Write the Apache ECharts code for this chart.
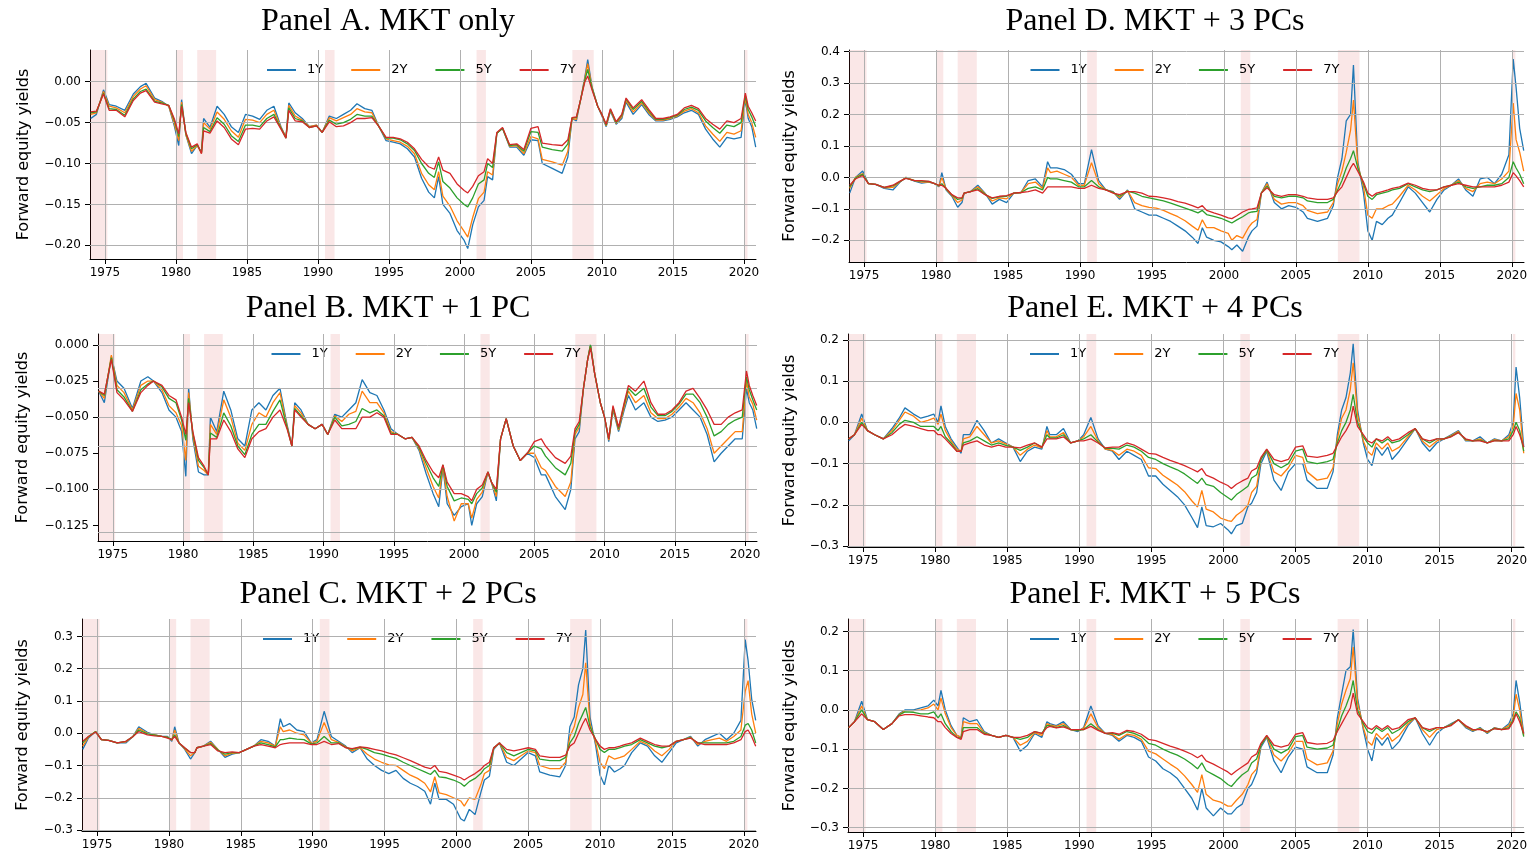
<!DOCTYPE html>
<html><head><meta charset="utf-8">
<script src="https://cdn.jsdelivr.net/npm/echarts@6/dist/echarts.min.js"></script>
<style>html,body{margin:0;padding:0;background:#fff}#c{width:1533px;height:856px}</style>
</head><body><div id="c"></div>
<script>
// ---------- DATA ----------
const T = [
1974.0,1974.4,1974.9,1975.3,1975.8,1976.4,1977.0,1977.5,1977.9,1978.5,1979.0,1979.5,1979.9,
1980.2,1980.4,1980.7,1981.1,1981.5,1981.8,1981.95,1982.4,1982.9,1983.4,1983.9,1984.4,1984.9,1985.4,1985.9,1986.4,1986.9,
1987.4,1987.75,1987.95,1988.4,1988.9,1989.4,1989.9,1990.3,1990.8,1991.3,1991.8,1992.3,1992.75,1993.3,1993.8,1994.3,1994.8,
1995.3,1995.8,1996.3,1996.8,1997.3,1997.8,1998.2,1998.5,1998.8,1999.3,1999.8,2000.3,2000.55,2000.9,2001.3,2001.7,2001.95,2002.3,
2002.6,2003.0,2003.5,2004.0,2004.5,2005.0,2005.5,2005.8,2006.5,2007.2,2007.6,2007.9,2008.2,2008.5,2008.8,2009.0,2009.3,2009.7,
2010.0,2010.3,2010.6,2011.0,2011.4,2011.7,2012.2,2012.8,2013.3,2013.8,2014.3,2014.8,2015.3,2015.8,2016.3,2016.8,2017.3,2017.8,2018.3,2018.8,2019.3,2019.8,2020.1,2020.3,2020.55,2020.83];

// Panel A. MKT only
const A1Y = [
-0.045,-0.040,-0.010,-0.028,-0.030,-0.035,-0.015,-0.006,-0.002,-0.020,-0.024,-0.030,-0.055,
-0.078,-0.022,-0.065,-0.088,-0.078,-0.086,-0.045,-0.056,-0.030,-0.040,-0.055,-0.062,-0.040,-0.042,-0.046,-0.035,-0.030,
-0.055,-0.068,-0.026,-0.038,-0.045,-0.055,-0.053,-0.062,-0.042,-0.045,-0.040,-0.035,-0.027,-0.033,-0.035,-0.055,-0.072,
-0.074,-0.076,-0.082,-0.092,-0.118,-0.135,-0.142,-0.116,-0.150,-0.161,-0.182,-0.194,-0.204,-0.175,-0.153,-0.145,-0.116,-0.120,
-0.063,-0.057,-0.080,-0.080,-0.090,-0.071,-0.072,-0.100,-0.106,-0.112,-0.092,-0.045,-0.048,-0.022,0.006,0.027,-0.006,-0.030,
-0.042,-0.055,-0.036,-0.052,-0.045,-0.025,-0.040,-0.028,-0.040,-0.048,-0.048,-0.046,-0.043,-0.038,-0.035,-0.040,-0.058,-0.070,-0.080,-0.068,-0.070,-0.068,-0.022,-0.045,-0.055,-0.080];
const A2Y = [
-0.040,-0.038,-0.012,-0.030,-0.032,-0.038,-0.018,-0.009,-0.005,-0.022,-0.025,-0.030,-0.052,
-0.072,-0.025,-0.065,-0.085,-0.078,-0.087,-0.050,-0.058,-0.037,-0.046,-0.060,-0.068,-0.046,-0.047,-0.050,-0.040,-0.035,
-0.056,-0.068,-0.029,-0.042,-0.047,-0.055,-0.053,-0.062,-0.044,-0.048,-0.044,-0.040,-0.033,-0.037,-0.038,-0.055,-0.070,
-0.072,-0.074,-0.079,-0.088,-0.112,-0.126,-0.132,-0.110,-0.140,-0.152,-0.170,-0.183,-0.190,-0.166,-0.143,-0.135,-0.110,-0.114,
-0.063,-0.057,-0.079,-0.078,-0.088,-0.067,-0.070,-0.095,-0.098,-0.102,-0.085,-0.045,-0.046,-0.022,0.004,0.022,-0.007,-0.030,
-0.041,-0.054,-0.035,-0.051,-0.043,-0.023,-0.037,-0.026,-0.038,-0.047,-0.047,-0.045,-0.042,-0.036,-0.033,-0.038,-0.054,-0.064,-0.073,-0.062,-0.064,-0.060,-0.020,-0.040,-0.050,-0.068];
const A5Y = [
-0.038,-0.037,-0.014,-0.033,-0.034,-0.041,-0.021,-0.012,-0.009,-0.024,-0.026,-0.029,-0.048,
-0.067,-0.028,-0.063,-0.082,-0.077,-0.087,-0.056,-0.061,-0.044,-0.052,-0.066,-0.073,-0.053,-0.053,-0.055,-0.045,-0.040,
-0.057,-0.069,-0.032,-0.045,-0.048,-0.056,-0.054,-0.062,-0.047,-0.052,-0.050,-0.046,-0.040,-0.042,-0.042,-0.055,-0.069,
-0.069,-0.071,-0.076,-0.084,-0.100,-0.112,-0.117,-0.098,-0.122,-0.130,-0.142,-0.150,-0.153,-0.142,-0.125,-0.120,-0.100,-0.105,
-0.063,-0.057,-0.078,-0.077,-0.085,-0.061,-0.062,-0.080,-0.083,-0.085,-0.076,-0.044,-0.044,-0.022,0.002,0.015,-0.008,-0.030,
-0.040,-0.053,-0.034,-0.050,-0.041,-0.021,-0.034,-0.024,-0.036,-0.046,-0.046,-0.044,-0.041,-0.034,-0.031,-0.035,-0.048,-0.056,-0.063,-0.053,-0.055,-0.050,-0.017,-0.034,-0.043,-0.055];
const A7Y = [
-0.037,-0.036,-0.015,-0.035,-0.035,-0.043,-0.023,-0.014,-0.011,-0.025,-0.027,-0.029,-0.046,
-0.064,-0.030,-0.062,-0.080,-0.076,-0.088,-0.060,-0.063,-0.048,-0.056,-0.070,-0.077,-0.058,-0.057,-0.058,-0.048,-0.043,
-0.058,-0.069,-0.035,-0.048,-0.049,-0.056,-0.054,-0.062,-0.049,-0.055,-0.054,-0.050,-0.045,-0.045,-0.044,-0.055,-0.068,
-0.068,-0.070,-0.074,-0.082,-0.095,-0.104,-0.107,-0.092,-0.108,-0.112,-0.125,-0.133,-0.136,-0.128,-0.115,-0.110,-0.094,-0.100,
-0.062,-0.056,-0.077,-0.076,-0.083,-0.057,-0.055,-0.075,-0.077,-0.078,-0.071,-0.044,-0.043,-0.022,0.000,0.007,-0.010,-0.030,
-0.040,-0.052,-0.033,-0.049,-0.040,-0.020,-0.032,-0.022,-0.034,-0.045,-0.045,-0.043,-0.040,-0.032,-0.029,-0.033,-0.045,-0.052,-0.058,-0.048,-0.050,-0.045,-0.014,-0.030,-0.038,-0.048];

// Panel B. MKT + 1 PC
const B1Y = [
-0.032,-0.040,-0.008,-0.025,-0.030,-0.044,-0.025,-0.022,-0.025,-0.033,-0.045,-0.050,-0.060,
-0.091,-0.030,-0.065,-0.088,-0.090,-0.090,-0.050,-0.060,-0.032,-0.045,-0.065,-0.070,-0.045,-0.040,-0.045,-0.035,-0.030,
-0.055,-0.070,-0.040,-0.045,-0.055,-0.058,-0.055,-0.062,-0.048,-0.050,-0.045,-0.040,-0.024,-0.033,-0.035,-0.045,-0.058,
-0.062,-0.065,-0.064,-0.073,-0.089,-0.103,-0.112,-0.085,-0.110,-0.118,-0.112,-0.110,-0.125,-0.110,-0.105,-0.088,-0.095,-0.108,
-0.065,-0.051,-0.070,-0.080,-0.075,-0.078,-0.090,-0.090,-0.105,-0.114,-0.100,-0.065,-0.060,-0.030,-0.010,0.000,-0.020,-0.040,
-0.050,-0.067,-0.045,-0.060,-0.045,-0.035,-0.045,-0.040,-0.050,-0.053,-0.052,-0.050,-0.045,-0.040,-0.045,-0.050,-0.062,-0.081,-0.075,-0.070,-0.065,-0.065,-0.030,-0.040,-0.045,-0.058];
const B2Y = [
-0.032,-0.037,-0.007,-0.028,-0.033,-0.045,-0.028,-0.025,-0.025,-0.031,-0.042,-0.047,-0.056,
-0.080,-0.033,-0.063,-0.084,-0.087,-0.090,-0.055,-0.062,-0.038,-0.050,-0.068,-0.073,-0.055,-0.047,-0.050,-0.040,-0.033,
-0.056,-0.070,-0.042,-0.047,-0.055,-0.058,-0.055,-0.062,-0.049,-0.053,-0.048,-0.046,-0.032,-0.040,-0.040,-0.047,-0.060,
-0.062,-0.065,-0.064,-0.072,-0.085,-0.098,-0.106,-0.084,-0.105,-0.122,-0.110,-0.110,-0.120,-0.107,-0.102,-0.088,-0.095,-0.105,
-0.065,-0.051,-0.070,-0.080,-0.075,-0.075,-0.085,-0.087,-0.098,-0.105,-0.095,-0.062,-0.057,-0.030,-0.010,0.000,-0.020,-0.040,
-0.050,-0.066,-0.044,-0.059,-0.043,-0.032,-0.040,-0.035,-0.047,-0.051,-0.051,-0.048,-0.043,-0.037,-0.040,-0.047,-0.058,-0.075,-0.070,-0.065,-0.060,-0.060,-0.025,-0.036,-0.041,-0.052];
const B5Y = [
-0.032,-0.035,-0.009,-0.031,-0.036,-0.046,-0.031,-0.027,-0.025,-0.029,-0.037,-0.040,-0.052,
-0.066,-0.037,-0.061,-0.080,-0.085,-0.090,-0.061,-0.064,-0.047,-0.056,-0.070,-0.076,-0.062,-0.055,-0.055,-0.046,-0.038,
-0.057,-0.070,-0.044,-0.049,-0.055,-0.058,-0.055,-0.062,-0.050,-0.056,-0.055,-0.053,-0.044,-0.047,-0.045,-0.049,-0.061,
-0.062,-0.065,-0.064,-0.071,-0.082,-0.092,-0.098,-0.083,-0.098,-0.108,-0.106,-0.107,-0.110,-0.103,-0.099,-0.088,-0.095,-0.102,
-0.065,-0.051,-0.070,-0.080,-0.075,-0.070,-0.072,-0.077,-0.085,-0.090,-0.082,-0.060,-0.055,-0.030,-0.010,0.000,-0.020,-0.040,
-0.050,-0.065,-0.043,-0.058,-0.041,-0.030,-0.035,-0.030,-0.043,-0.049,-0.049,-0.046,-0.041,-0.034,-0.034,-0.040,-0.050,-0.063,-0.060,-0.055,-0.052,-0.050,-0.022,-0.031,-0.038,-0.045];
const B7Y = [
-0.032,-0.034,-0.010,-0.033,-0.038,-0.046,-0.033,-0.028,-0.025,-0.028,-0.035,-0.038,-0.050,
-0.062,-0.040,-0.060,-0.078,-0.084,-0.090,-0.065,-0.065,-0.052,-0.060,-0.072,-0.078,-0.065,-0.060,-0.058,-0.050,-0.045,
-0.058,-0.070,-0.045,-0.050,-0.055,-0.058,-0.055,-0.062,-0.052,-0.058,-0.058,-0.058,-0.050,-0.050,-0.047,-0.050,-0.062,
-0.062,-0.065,-0.064,-0.070,-0.080,-0.088,-0.092,-0.083,-0.095,-0.103,-0.103,-0.105,-0.108,-0.100,-0.097,-0.088,-0.095,-0.100,
-0.065,-0.051,-0.070,-0.080,-0.075,-0.067,-0.065,-0.070,-0.078,-0.082,-0.077,-0.058,-0.053,-0.030,-0.010,-0.002,-0.020,-0.040,
-0.050,-0.065,-0.042,-0.057,-0.040,-0.028,-0.032,-0.025,-0.040,-0.048,-0.048,-0.045,-0.040,-0.032,-0.030,-0.037,-0.045,-0.055,-0.055,-0.050,-0.047,-0.045,-0.018,-0.028,-0.035,-0.042];

// Panel C. MKT + 2 PCs
const C1Y = [
-0.05,-0.015,0.005,-0.02,-0.022,-0.03,-0.03,-0.01,0.02,0.003,-0.005,-0.01,-0.01,
-0.025,0.02,-0.03,-0.05,-0.08,-0.06,-0.045,-0.04,-0.025,-0.05,-0.075,-0.065,-0.06,-0.05,-0.04,-0.02,-0.025,
-0.04,0.045,0.02,0.03,0.01,0.005,-0.03,-0.02,0.068,-0.01,-0.025,-0.04,-0.06,-0.045,-0.08,-0.1,-0.115,
-0.125,-0.115,-0.14,-0.155,-0.165,-0.18,-0.22,-0.155,-0.205,-0.205,-0.22,-0.265,-0.272,-0.236,-0.252,-0.184,-0.145,-0.133,
-0.05,-0.03,-0.09,-0.1,-0.08,-0.06,-0.07,-0.12,-0.13,-0.135,-0.1,0.02,0.05,0.15,0.2,0.32,0.05,-0.04,
-0.13,-0.16,-0.1,-0.12,-0.11,-0.1,-0.06,-0.03,-0.04,-0.07,-0.09,-0.06,-0.03,-0.02,-0.01,-0.04,-0.02,-0.01,0.0,-0.02,0.0,0.04,0.29,0.225,0.106,0.04];
const C2Y = [
-0.04,-0.012,0.005,-0.02,-0.022,-0.03,-0.027,-0.01,0.015,0.0,-0.005,-0.01,-0.012,
-0.022,0.01,-0.03,-0.048,-0.07,-0.06,-0.045,-0.04,-0.028,-0.05,-0.07,-0.062,-0.06,-0.05,-0.04,-0.025,-0.03,
-0.04,0.02,0.005,0.01,0.0,-0.005,-0.03,-0.025,0.033,-0.02,-0.028,-0.042,-0.055,-0.045,-0.065,-0.08,-0.09,
-0.098,-0.1,-0.115,-0.13,-0.14,-0.155,-0.182,-0.135,-0.185,-0.19,-0.2,-0.21,-0.226,-0.2,-0.205,-0.16,-0.125,-0.115,
-0.047,-0.03,-0.075,-0.085,-0.07,-0.055,-0.06,-0.1,-0.11,-0.11,-0.09,-0.01,0.02,0.08,0.12,0.218,0.03,-0.03,
-0.09,-0.11,-0.07,-0.08,-0.075,-0.07,-0.05,-0.025,-0.035,-0.055,-0.07,-0.05,-0.025,-0.02,-0.012,-0.035,-0.025,-0.02,-0.015,-0.025,-0.01,0.01,0.13,0.163,0.06,0.0];
const C5Y = [
-0.03,-0.01,0.005,-0.02,-0.022,-0.03,-0.025,-0.01,0.01,-0.002,-0.006,-0.01,-0.013,
-0.02,-0.005,-0.03,-0.046,-0.06,-0.06,-0.045,-0.04,-0.032,-0.052,-0.065,-0.06,-0.06,-0.05,-0.04,-0.03,-0.035,
-0.042,-0.02,-0.02,-0.015,-0.018,-0.02,-0.033,-0.03,-0.01,-0.03,-0.03,-0.044,-0.05,-0.043,-0.05,-0.06,-0.065,
-0.072,-0.078,-0.09,-0.1,-0.11,-0.12,-0.128,-0.115,-0.135,-0.138,-0.145,-0.155,-0.164,-0.15,-0.14,-0.125,-0.11,-0.1,
-0.045,-0.03,-0.06,-0.07,-0.06,-0.05,-0.055,-0.08,-0.085,-0.085,-0.075,-0.03,-0.01,0.03,0.06,0.08,0.02,-0.02,
-0.05,-0.06,-0.05,-0.05,-0.045,-0.04,-0.035,-0.02,-0.03,-0.04,-0.045,-0.04,-0.025,-0.02,-0.014,-0.03,-0.03,-0.03,-0.03,-0.03,-0.025,-0.01,0.025,0.03,0.01,-0.03];
const C7Y = [
-0.025,-0.01,0.004,-0.02,-0.022,-0.03,-0.025,-0.01,0.005,-0.005,-0.008,-0.01,-0.015,
-0.02,-0.01,-0.03,-0.045,-0.06,-0.06,-0.045,-0.04,-0.035,-0.055,-0.06,-0.058,-0.06,-0.05,-0.04,-0.035,-0.04,
-0.045,-0.035,-0.033,-0.03,-0.03,-0.03,-0.035,-0.035,-0.025,-0.035,-0.032,-0.045,-0.048,-0.042,-0.045,-0.05,-0.055,
-0.062,-0.067,-0.076,-0.085,-0.095,-0.105,-0.11,-0.1,-0.118,-0.122,-0.13,-0.138,-0.145,-0.135,-0.125,-0.112,-0.1,-0.09,
-0.045,-0.03,-0.05,-0.055,-0.05,-0.045,-0.05,-0.07,-0.075,-0.075,-0.068,-0.04,-0.03,0.0,0.03,0.046,0.01,-0.02,
-0.04,-0.05,-0.045,-0.045,-0.04,-0.035,-0.03,-0.015,-0.025,-0.035,-0.04,-0.04,-0.025,-0.02,-0.015,-0.03,-0.035,-0.035,-0.035,-0.035,-0.03,-0.02,0.005,0.01,-0.01,-0.04];

// Panel D. MKT + 3 PCs
const D1Y = [
-0.05,0.0,0.02,-0.02,-0.022,-0.035,-0.04,-0.015,0.0,-0.012,-0.018,-0.015,-0.02,
-0.03,0.015,-0.04,-0.06,-0.095,-0.08,-0.05,-0.045,-0.025,-0.05,-0.085,-0.07,-0.08,-0.05,-0.048,-0.01,-0.005,
-0.03,0.05,0.03,0.03,0.025,0.01,-0.02,-0.02,0.088,-0.01,-0.04,-0.045,-0.07,-0.04,-0.1,-0.11,-0.12,
-0.12,-0.13,-0.14,-0.155,-0.17,-0.19,-0.21,-0.16,-0.19,-0.2,-0.205,-0.22,-0.23,-0.215,-0.235,-0.19,-0.17,-0.155,
-0.05,-0.015,-0.08,-0.1,-0.09,-0.095,-0.11,-0.13,-0.14,-0.13,-0.09,0.0,0.06,0.18,0.2,0.357,0.05,-0.05,
-0.17,-0.2,-0.14,-0.15,-0.13,-0.12,-0.08,-0.03,-0.05,-0.08,-0.11,-0.07,-0.04,-0.025,-0.005,-0.04,-0.06,-0.005,0.0,-0.02,0.01,0.072,0.376,0.286,0.156,0.085];
const D2Y = [
-0.035,0.0,0.012,-0.02,-0.022,-0.033,-0.032,-0.014,0.0,-0.01,-0.015,-0.014,-0.02,
-0.028,0.0,-0.038,-0.058,-0.08,-0.072,-0.05,-0.045,-0.03,-0.052,-0.075,-0.065,-0.068,-0.05,-0.048,-0.02,-0.015,
-0.035,0.03,0.015,0.02,0.01,0.0,-0.025,-0.025,0.047,-0.02,-0.04,-0.047,-0.065,-0.042,-0.08,-0.09,-0.095,
-0.098,-0.105,-0.115,-0.125,-0.138,-0.155,-0.168,-0.135,-0.16,-0.16,-0.17,-0.178,-0.2,-0.185,-0.193,-0.16,-0.145,-0.134,
-0.05,-0.02,-0.07,-0.085,-0.08,-0.08,-0.09,-0.105,-0.115,-0.11,-0.08,-0.02,0.02,0.08,0.15,0.246,0.04,-0.03,
-0.12,-0.13,-0.1,-0.1,-0.09,-0.085,-0.06,-0.025,-0.04,-0.06,-0.075,-0.055,-0.035,-0.025,-0.01,-0.035,-0.045,-0.02,-0.015,-0.02,-0.005,0.02,0.236,0.12,0.08,0.02];
const D5Y = [
-0.03,-0.002,0.01,-0.02,-0.022,-0.032,-0.027,-0.013,-0.002,-0.01,-0.012,-0.013,-0.02,
-0.026,-0.02,-0.036,-0.056,-0.07,-0.067,-0.05,-0.045,-0.036,-0.054,-0.067,-0.062,-0.06,-0.05,-0.048,-0.035,-0.03,
-0.04,0.0,-0.005,-0.005,-0.01,-0.015,-0.03,-0.03,-0.01,-0.03,-0.04,-0.048,-0.06,-0.044,-0.05,-0.06,-0.065,
-0.07,-0.075,-0.082,-0.09,-0.098,-0.106,-0.113,-0.105,-0.118,-0.124,-0.13,-0.14,-0.145,-0.135,-0.125,-0.113,-0.11,-0.108,
-0.05,-0.028,-0.06,-0.065,-0.06,-0.06,-0.065,-0.075,-0.08,-0.08,-0.07,-0.04,-0.01,0.03,0.06,0.085,0.03,-0.02,
-0.06,-0.07,-0.055,-0.05,-0.045,-0.04,-0.035,-0.02,-0.03,-0.04,-0.045,-0.04,-0.03,-0.025,-0.015,-0.03,-0.035,-0.03,-0.025,-0.025,-0.02,0.0,0.05,0.03,0.01,-0.02];
const D7Y = [
-0.025,-0.005,0.006,-0.02,-0.022,-0.032,-0.025,-0.012,-0.003,-0.01,-0.01,-0.013,-0.02,
-0.025,-0.025,-0.035,-0.055,-0.065,-0.065,-0.05,-0.045,-0.04,-0.055,-0.065,-0.06,-0.058,-0.05,-0.048,-0.045,-0.04,
-0.05,-0.03,-0.03,-0.03,-0.03,-0.03,-0.035,-0.035,-0.025,-0.035,-0.04,-0.05,-0.055,-0.045,-0.045,-0.05,-0.06,
-0.061,-0.065,-0.07,-0.077,-0.082,-0.09,-0.097,-0.09,-0.105,-0.113,-0.12,-0.129,-0.131,-0.122,-0.11,-0.102,-0.1,-0.097,
-0.05,-0.033,-0.055,-0.06,-0.055,-0.055,-0.06,-0.065,-0.07,-0.07,-0.065,-0.045,-0.03,0.0,0.03,0.045,0.02,-0.015,
-0.05,-0.06,-0.05,-0.045,-0.04,-0.035,-0.03,-0.018,-0.025,-0.035,-0.04,-0.04,-0.03,-0.025,-0.02,-0.025,-0.03,-0.03,-0.03,-0.03,-0.025,-0.015,0.015,0.005,-0.01,-0.03];

// Panel E. MKT + 4 PCs
const E1Y = [
-0.045,-0.03,0.02,-0.02,-0.03,-0.04,-0.015,0.01,0.035,0.02,0.01,0.015,0.02,
0.0,0.04,-0.01,-0.04,-0.06,-0.075,-0.03,-0.03,0.005,-0.02,-0.05,-0.04,-0.05,-0.06,-0.095,-0.07,-0.06,
-0.065,-0.01,-0.03,-0.03,-0.015,-0.05,-0.045,-0.03,0.012,-0.04,-0.065,-0.07,-0.09,-0.07,-0.08,-0.09,-0.13,
-0.13,-0.15,-0.165,-0.18,-0.2,-0.23,-0.255,-0.205,-0.25,-0.253,-0.245,-0.26,-0.27,-0.25,-0.245,-0.204,-0.196,-0.17,
-0.1,-0.07,-0.14,-0.165,-0.12,-0.1,-0.1,-0.14,-0.16,-0.16,-0.12,-0.03,0.03,0.06,0.12,0.19,0.03,-0.05,
-0.09,-0.105,-0.06,-0.08,-0.06,-0.09,-0.07,-0.04,-0.015,-0.05,-0.07,-0.05,-0.04,-0.03,-0.02,-0.045,-0.045,-0.035,-0.05,-0.04,-0.045,-0.03,0.0,0.134,0.06,-0.06];
const E2Y = [
-0.04,-0.03,0.01,-0.02,-0.03,-0.04,-0.02,0.005,0.025,0.015,0.0,0.005,0.01,
-0.005,0.02,-0.02,-0.045,-0.065,-0.07,-0.04,-0.035,-0.01,-0.03,-0.05,-0.045,-0.052,-0.06,-0.08,-0.065,-0.055,
-0.062,-0.02,-0.035,-0.035,-0.025,-0.05,-0.045,-0.035,-0.01,-0.045,-0.065,-0.068,-0.08,-0.065,-0.07,-0.08,-0.11,
-0.112,-0.128,-0.14,-0.152,-0.168,-0.19,-0.205,-0.165,-0.21,-0.217,-0.232,-0.238,-0.24,-0.225,-0.215,-0.2,-0.17,-0.155,
-0.09,-0.068,-0.12,-0.13,-0.11,-0.08,-0.085,-0.12,-0.14,-0.135,-0.11,-0.04,0.01,0.03,0.08,0.144,0.02,-0.045,
-0.07,-0.08,-0.05,-0.065,-0.05,-0.07,-0.06,-0.035,-0.015,-0.045,-0.06,-0.045,-0.04,-0.032,-0.022,-0.043,-0.045,-0.04,-0.05,-0.042,-0.045,-0.035,-0.01,0.07,0.03,-0.075];
const E5Y = [
-0.04,-0.03,0.0,-0.02,-0.03,-0.04,-0.025,-0.005,0.005,0.0,-0.01,-0.01,-0.01,
-0.02,-0.01,-0.035,-0.05,-0.07,-0.07,-0.05,-0.045,-0.035,-0.045,-0.055,-0.05,-0.056,-0.06,-0.068,-0.06,-0.05,
-0.06,-0.03,-0.038,-0.038,-0.03,-0.05,-0.045,-0.04,-0.03,-0.048,-0.063,-0.063,-0.065,-0.055,-0.06,-0.07,-0.085,
-0.09,-0.1,-0.108,-0.115,-0.125,-0.138,-0.148,-0.135,-0.15,-0.155,-0.17,-0.182,-0.188,-0.175,-0.165,-0.155,-0.135,-0.127,
-0.09,-0.066,-0.1,-0.11,-0.1,-0.07,-0.065,-0.095,-0.1,-0.095,-0.09,-0.05,-0.02,0.0,0.03,0.068,0.0,-0.035,
-0.05,-0.06,-0.04,-0.05,-0.04,-0.05,-0.045,-0.03,-0.015,-0.04,-0.05,-0.04,-0.04,-0.034,-0.024,-0.041,-0.045,-0.043,-0.05,-0.044,-0.045,-0.04,-0.02,0.0,-0.02,-0.07];
const E7Y = [
-0.04,-0.03,-0.005,-0.02,-0.03,-0.04,-0.03,-0.015,-0.005,-0.01,-0.015,-0.02,-0.02,
-0.03,-0.03,-0.04,-0.055,-0.07,-0.07,-0.055,-0.05,-0.045,-0.055,-0.06,-0.055,-0.06,-0.06,-0.062,-0.055,-0.05,
-0.06,-0.04,-0.04,-0.04,-0.035,-0.05,-0.045,-0.045,-0.04,-0.05,-0.062,-0.06,-0.06,-0.05,-0.055,-0.065,-0.075,
-0.077,-0.085,-0.092,-0.098,-0.105,-0.113,-0.12,-0.112,-0.128,-0.135,-0.145,-0.153,-0.16,-0.15,-0.142,-0.135,-0.118,-0.111,
-0.085,-0.065,-0.09,-0.095,-0.09,-0.06,-0.057,-0.082,-0.085,-0.08,-0.075,-0.055,-0.035,-0.02,0.0,0.039,-0.01,-0.03,
-0.045,-0.05,-0.04,-0.045,-0.035,-0.045,-0.04,-0.025,-0.015,-0.04,-0.045,-0.04,-0.04,-0.035,-0.025,-0.04,-0.045,-0.045,-0.05,-0.045,-0.045,-0.045,-0.03,-0.01,-0.03,-0.06];

// Panel F. MKT + 5 PCs
const F1Y = [
-0.045,-0.03,0.022,-0.025,-0.03,-0.05,-0.035,-0.01,0.0,0.0,0.005,0.01,0.025,
0.01,0.05,0.0,-0.04,-0.065,-0.07,-0.02,-0.03,-0.025,-0.055,-0.065,-0.07,-0.065,-0.07,-0.105,-0.09,-0.06,
-0.07,-0.03,-0.035,-0.04,-0.03,-0.05,-0.055,-0.045,0.01,-0.04,-0.06,-0.065,-0.08,-0.065,-0.07,-0.08,-0.12,
-0.13,-0.15,-0.16,-0.175,-0.2,-0.225,-0.255,-0.2,-0.25,-0.27,-0.25,-0.265,-0.265,-0.25,-0.24,-0.2,-0.19,-0.16,
-0.095,-0.07,-0.13,-0.16,-0.12,-0.095,-0.1,-0.145,-0.16,-0.16,-0.115,-0.02,0.04,0.1,0.11,0.205,0.03,-0.05,
-0.1,-0.13,-0.07,-0.09,-0.07,-0.1,-0.08,-0.04,-0.02,-0.06,-0.09,-0.06,-0.045,-0.035,-0.025,-0.045,-0.055,-0.045,-0.06,-0.045,-0.05,-0.035,-0.01,0.075,0.02,-0.06];
const F2Y = [
-0.045,-0.03,0.01,-0.025,-0.03,-0.05,-0.035,-0.012,-0.002,-0.002,0.0,0.005,0.015,
0.0,0.03,-0.01,-0.045,-0.065,-0.07,-0.03,-0.035,-0.035,-0.058,-0.065,-0.07,-0.065,-0.07,-0.09,-0.08,-0.058,
-0.065,-0.035,-0.038,-0.042,-0.035,-0.05,-0.053,-0.047,-0.01,-0.045,-0.06,-0.063,-0.075,-0.062,-0.065,-0.075,-0.105,
-0.112,-0.125,-0.138,-0.15,-0.168,-0.19,-0.21,-0.165,-0.215,-0.23,-0.235,-0.245,-0.245,-0.23,-0.215,-0.19,-0.165,-0.15,
-0.09,-0.068,-0.115,-0.13,-0.11,-0.08,-0.08,-0.125,-0.14,-0.135,-0.105,-0.035,0.015,0.05,0.08,0.16,0.02,-0.045,
-0.08,-0.09,-0.06,-0.075,-0.06,-0.08,-0.065,-0.035,-0.02,-0.05,-0.07,-0.05,-0.045,-0.037,-0.025,-0.043,-0.053,-0.047,-0.058,-0.046,-0.05,-0.04,-0.02,0.04,0.0,-0.065];
const F5Y = [
-0.045,-0.03,0.0,-0.025,-0.03,-0.05,-0.035,-0.013,-0.005,-0.006,-0.01,-0.01,-0.005,
-0.02,-0.01,-0.035,-0.055,-0.07,-0.072,-0.045,-0.045,-0.045,-0.06,-0.065,-0.07,-0.065,-0.07,-0.075,-0.07,-0.055,
-0.06,-0.04,-0.04,-0.045,-0.04,-0.05,-0.052,-0.05,-0.035,-0.05,-0.06,-0.06,-0.065,-0.055,-0.06,-0.068,-0.085,
-0.09,-0.1,-0.108,-0.115,-0.125,-0.138,-0.15,-0.135,-0.155,-0.165,-0.175,-0.19,-0.195,-0.18,-0.165,-0.155,-0.135,-0.125,
-0.09,-0.066,-0.1,-0.11,-0.1,-0.068,-0.065,-0.095,-0.1,-0.097,-0.09,-0.05,-0.015,0.01,0.04,0.075,0.0,-0.035,
-0.055,-0.06,-0.045,-0.055,-0.045,-0.06,-0.05,-0.03,-0.02,-0.045,-0.055,-0.045,-0.045,-0.038,-0.025,-0.041,-0.051,-0.049,-0.056,-0.047,-0.05,-0.045,-0.025,-0.005,-0.02,-0.068];
const F7Y = [
-0.045,-0.03,-0.01,-0.025,-0.03,-0.05,-0.035,-0.015,-0.012,-0.012,-0.015,-0.018,-0.02,
-0.03,-0.03,-0.045,-0.06,-0.07,-0.075,-0.055,-0.05,-0.05,-0.062,-0.065,-0.07,-0.065,-0.07,-0.07,-0.065,-0.055,
-0.06,-0.045,-0.042,-0.046,-0.043,-0.05,-0.05,-0.05,-0.042,-0.052,-0.06,-0.058,-0.062,-0.052,-0.055,-0.062,-0.075,
-0.078,-0.085,-0.092,-0.098,-0.105,-0.113,-0.122,-0.115,-0.13,-0.138,-0.148,-0.158,-0.165,-0.155,-0.145,-0.135,-0.12,-0.112,
-0.085,-0.065,-0.09,-0.095,-0.09,-0.062,-0.058,-0.083,-0.087,-0.085,-0.078,-0.055,-0.035,-0.015,0.005,0.043,-0.01,-0.03,
-0.045,-0.05,-0.04,-0.05,-0.04,-0.05,-0.045,-0.025,-0.02,-0.045,-0.05,-0.045,-0.045,-0.04,-0.025,-0.04,-0.05,-0.05,-0.055,-0.048,-0.05,-0.048,-0.03,-0.01,-0.03,-0.06];

// Recessions (start, end) in years
const recessions = [[1973.83,1975.17],[1980.0,1980.5],[1981.5,1982.83],[1990.5,1991.17],[2001.17,2001.83],[2007.92,2009.42],[2020.08,2020.25]];

// Axis ticks and ranges
const xTicks = [1975,1980,1985,1990,1995,2000,2005,2010,2015,2020];
const xRange = [1973.95,2020.85];
const yTicksA = [-0.2,-0.15,-0.1,-0.05,0];
const yTicksB = [-0.125,-0.1,-0.075,-0.05,-0.025,0];
const yTicksC = [-0.3,-0.2,-0.1,0,0.1,0.2,0.3];
const yTicksD = [-0.2,-0.1,0,0.1,0.2,0.3,0.4];
const yTicksE = [-0.3,-0.2,-0.1,0,0.1,0.2];
const yTicksF = [-0.3,-0.2,-0.1,0,0.1,0.2];
const yRangeA = [-0.2167,0.0387];
const yRangeB = [-0.1358,0.0076];
const yRangeC = [-0.303,0.354];
const yRangeD = [-0.269,0.405];
const yRangeE = [-0.302,0.214];
const yRangeF = [-0.311,0.2316];
const seriesNames = ['1Y','2Y','5Y','7Y'];
const titles = ['Panel A. MKT only','Panel B. MKT + 1 PC','Panel C. MKT + 2 PCs','Panel D. MKT + 3 PCs','Panel E. MKT + 4 PCs','Panel F. MKT + 5 PCs'];
const yLabel = 'Forward equity yields';

// ---------- BUILD ----------
const panels = [
  {vals:[A1Y,A2Y,A5Y,A7Y], ticks:yTicksA, range:yRangeA, dec:2},
  {vals:[B1Y,B2Y,B5Y,B7Y], ticks:yTicksB, range:yRangeB, dec:3},
  {vals:[C1Y,C2Y,C5Y,C7Y], ticks:yTicksC, range:yRangeC, dec:1},
  {vals:[D1Y,D2Y,D5Y,D7Y], ticks:yTicksD, range:yRangeD, dec:1},
  {vals:[E1Y,E2Y,E5Y,E7Y], ticks:yTicksE, range:yRangeE, dec:1},
  {vals:[F1Y,F2Y,F5Y,F7Y], ticks:yTicksF, range:yRangeF, dec:1}
];
// layout: [left, top, width, height], title centre x / y, y-label x
const layout = [
  {g:[90,50,666,209],  tx:388,  ty:21.5, lx:24},
  {g:[98,334,659,207], tx:388,  ty:309,  lx:23},
  {g:[82,619,674,212], tx:388,  ty:594.5,lx:23},
  {g:[849,50,675,212], tx:1155, ty:21.5, lx:790},
  {g:[848,334,676,213],tx:1155, ty:309,  lx:790},
  {g:[848,619,676,213],tx:1155, ty:594.5,lx:790}
];
const colors = ['#1f77b4','#ff7f0e','#2ca02c','#d62728'];
const FONT = '"DejaVu Sans", sans-serif';
const fmtY = dec => v => (v < -1e-9 ? '\u2212' : '') + Math.abs(v).toFixed(dec);

const option = {animation:false, backgroundColor:'#fff', grid:[], xAxis:[], yAxis:[], series:[], legend:[], graphic:[]};
panels.forEach((p,i) => {
  const L = layout[i];
  option.grid.push({left:L.g[0], top:L.g[1], width:L.g[2], height:L.g[3], containLabel:false});
  option.xAxis.push({type:'value', gridIndex:i, min:xRange[0], max:xRange[1],
    axisLine:{show:true, onZero:false, lineStyle:{color:'#000', width:1}},
    axisTick:{show:true, inside:false, length:5, customValues:xTicks, lineStyle:{color:'#000', width:1}},
    axisLabel:{show:true, customValues:xTicks, margin:8, color:'#000', fontFamily:FONT, fontSize:12, formatter:v=>String(Math.round(v))},
    splitLine:{show:false}});
  option.yAxis.push({type:'value', gridIndex:i, min:p.range[0], max:p.range[1],
    axisLine:{show:true, onZero:false, lineStyle:{color:'#000', width:1}},
    axisTick:{show:true, inside:false, length:5, customValues:p.ticks, lineStyle:{color:'#000', width:1}},
    axisLabel:{show:true, customValues:p.ticks, margin:9, color:'#000', fontFamily:FONT, fontSize:12, formatter:fmtY(p.dec)},
    splitLine:{show:false}});
  // background: recession bands and grid lines
  option.series.push({type:'line', name:'bg'+i, xAxisIndex:i, yAxisIndex:i, data:[[T[0], p.ticks[0]]],
    symbol:'none', showSymbol:false, lineStyle:{opacity:0}, silent:true, z:1,
    markArea:{silent:true, itemStyle:{color:'rgba(214,60,60,0.12)'},
      data:recessions.map(r => [{xAxis:Math.max(r[0],xRange[0])},{xAxis:Math.min(r[1],xRange[1])}])},
    markLine:{silent:true, symbol:['none','none'], label:{show:false}, animation:false,
      lineStyle:{color:'#b0b0b0', width:1, type:'solid'}, emphasis:{disabled:true},
      data:[...p.ticks.map(v=>({yAxis:v})), ...xTicks.map(v=>({xAxis:v}))]}
  });
  p.vals.forEach((arr,k) => {
    option.series.push({type:'line', name:seriesNames[k], xAxisIndex:i, yAxisIndex:i,
      data:T.map((t,j)=>[t, arr[j]]), symbol:'none', showSymbol:false, silent:true, z:3+k,
      color:colors[k], itemStyle:{color:colors[k]}, lineStyle:{color:colors[k], width:1.3}, emphasis:{disabled:true}});
  });
  option.legend.push({
    data:seriesNames.map((n,k)=>({name:n, icon:'rect', itemStyle:{color:colors[k], borderWidth:0}})),
    left:L.g[0]+L.g[2]/2-156, top:L.g[1]+13.5, padding:0,
    itemWidth:29, itemHeight:2, itemGap:28, selectedMode:false,
    textStyle:{fontFamily:FONT, fontSize:13, color:'#000', padding:[0,0,0,6]}});
  option.graphic.push({type:'text', x:L.tx, y:L.ty, silent:true,
    style:{text:titles[i], font:'32px "Liberation Serif", serif', fill:'#000', align:'center', verticalAlign:'middle'}});
  option.graphic.push({type:'text', x:L.lx, y:L.g[1]+L.g[3]/2, rotation:Math.PI/2, silent:true,
    style:{text:yLabel, font:'16px "DejaVu Sans", sans-serif', fill:'#000', align:'center', verticalAlign:'middle'}});
});

const chart = echarts.init(document.getElementById('c'), null, {renderer:'canvas'});
chart.setOption(option);
</script>
</body></html>
